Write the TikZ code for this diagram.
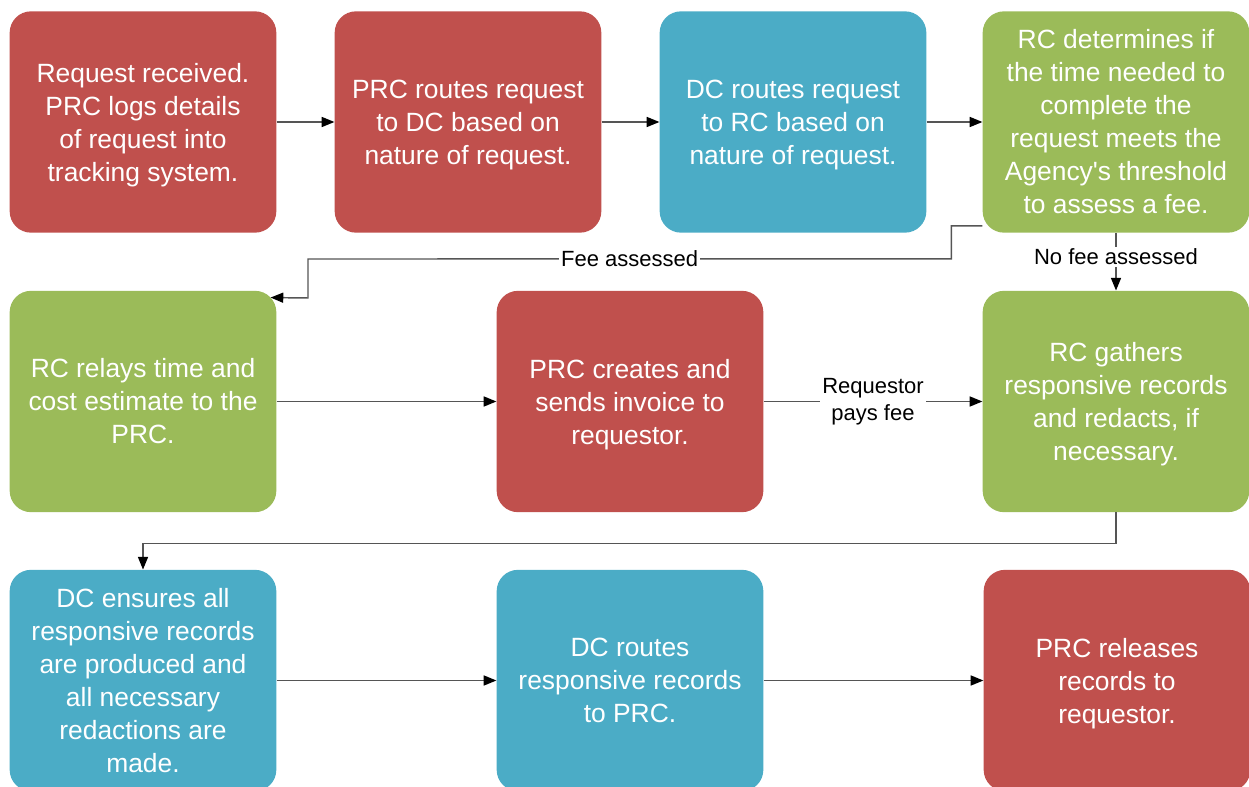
\documentclass[tikz,border=0pt]{standalone}
\usepackage{fontspec}
\setmainfont{Liberation Sans}
\usetikzlibrary{arrows.meta}
\definecolor{cred}{HTML}{C0504D}
\definecolor{cblue}{HTML}{4BACC6}
\definecolor{cgreen}{HTML}{9BBB59}
\definecolor{cline}{HTML}{555555}
\begin{document}
\begin{tikzpicture}[x=0.75pt,y=-0.75pt,
  box/.style={rounded corners=16pt, minimum width=200pt, minimum height=166pt,
    inner sep=0pt, text=white, align=center,
    font=\fontsize{19.8}{24.75}\selectfont},
  conn/.style={draw=cline, line width=1.1pt,
    -{Triangle[length=9.5pt,width=7.5pt,fill=black,color=black]}},
  lbl/.style={fill=white, text=black, inner sep=1.5pt, align=center,
    font=\fontsize{16.5}{20.25}\selectfont}]
\useasboundingbox (0,0) rectangle (1249,787);
% row 1
\node[box,fill=cred] (b1) at (143,122) {Request received.\\PRC logs details\\of request into\\\smash{tracking system.}};
\node[box,fill=cred] (b2) at (468,122) {PRC routes request\\to DC based on\\\smash{nature of request.}};
\node[box,fill=cblue] (b3) at (793,122) {DC routes request\\to RC based on\\\smash{nature of request.}};
\node[box,fill=cgreen] (b4) at (1116,122) {RC determines if\\the time needed to\\complete the\\request meets the\\Agency\textquotesingle s threshold\\to assess a fee.};
% row 2
\node[box,fill=cgreen] (b5) at (143,401.5) {RC relays time and\\cost estimate to the\\PRC.};
\node[box,fill=cred] (b6) at (630,401.5) {PRC creates and\\sends invoice to\\\smash{requestor.}};
\node[box,fill=cgreen] (b7) at (1116,401.5) {RC gathers\\responsive records\\and redacts, if\\\smash{necessary.}};
% row 3
\node[box,fill=cblue] (b8) at (143,680.5) {DC ensures all\\responsive records\\are produced and\\all necessary\\redactions are\\made.};
\node[box,fill=cblue] (b9) at (630,680.5) {DC routes\\responsive records\\to PRC.};
\node[box,fill=cred] (b10) at (1117,680.5) {PRC releases\\records to\\\smash{requestor.}};
% connectors
\draw[conn] (b1) -- (b2);
\draw[conn] (b2) -- (b3);
\draw[conn] (b3) -- (b4);
\draw[conn] ([yshift=5.25pt]b4.south west) -- ++(-31,0) -- ++(0,33)
  -- node[lbl]{Fee assessed} (308,259) -- (308,298)
  -- ([xshift=-4.5pt,yshift=-5.25pt]b5.north east);
\draw[conn] (b4.south) -- node[lbl,pos=0.42]{No fee assessed} (b7.north);
\draw[conn] (b5) -- (b6);
\draw[conn] (b6) -- node[lbl]{Requestor\\pays fee} (b7);
\draw[conn] (b7.south) -- ++(0,31) -| (b8.north);
\draw[conn] (b8) -- (b9);
\draw[conn] (b9) -- (b10);
\end{tikzpicture}
\end{document}
